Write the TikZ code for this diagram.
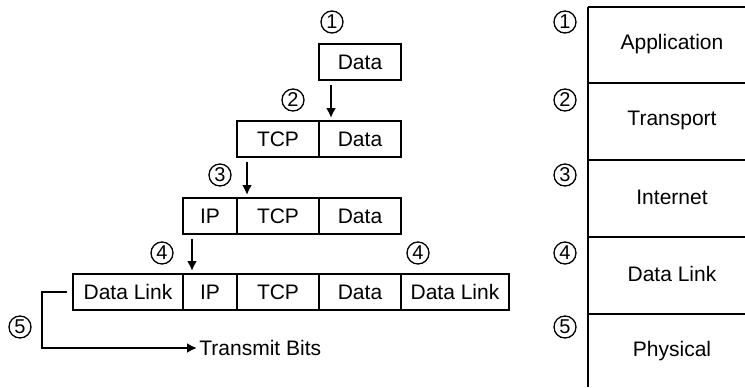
\documentclass[tikz,border=0pt]{standalone}
\usepackage{fontspec}
\setmainfont{Liberation Sans}
\usetikzlibrary{positioning,arrows.meta}

\tikzset{
  cell/.style={draw, line width=1.1pt, outer sep=0pt, inner sep=0pt,
    minimum height=18pt, font=\fontsize{10.5}{12}\selectfont},
  num/.style={circle, draw, line width=0.65pt, minimum size=11pt,
    inner sep=0pt, font=\fontsize{10}{10}\selectfont},
  arr/.style={-{Latex[length=5pt,width=5pt]}, line width=1.1pt},
  layer/.style={font=\fontsize{10.5}{12}\selectfont},
}

\begin{document}
\begin{tikzpicture}[x=0.5pt,y=-0.5pt]
  \useasboundingbox (0,0) rectangle (745,387);

  % step 1: data
  \node[cell, minimum width=41pt, anchor=north west] (d1) at (319,44) {Data};
  \node[num] (n1) at (332,22) {1};

  % step 2: transport
  \node[cell, minimum width=41pt, anchor=north west] (tcp2) at (237,121) {TCP};
  \node[cell, minimum width=41pt, right=0pt of tcp2] (d2) {Data};
  \node[num] (n2) at (293,100) {2};

  % step 3: internet
  \node[cell, minimum width=27pt, anchor=north west] (ip3) at (183,198) {IP};
  \node[cell, minimum width=41pt, right=0pt of ip3] (tcp3) {TCP};
  \node[cell, minimum width=41pt, right=0pt of tcp3] (d3) {Data};
  \node[num] (n3) at (220,175) {3};

  % step 4: data link
  \node[cell, minimum width=55pt, anchor=north west] (dl4) at (73,274) {Data Link};
  \node[cell, minimum width=27pt, right=0pt of dl4] (ip4) {IP};
  \node[cell, minimum width=41pt, right=0pt of ip4] (tcp4) {TCP};
  \node[cell, minimum width=41pt, right=0pt of tcp4] (d4) {Data};
  \node[cell, minimum width=54pt, right=0pt of d4] (tr4) {Data Link};
  \node[num] (n4) at (162,253) {4};
  \node[num] (n4b) at (418,253) {4};

  % step 5: physical
  \node[num] (n5) at (20,327) {5};
  \node[layer, anchor=west, inner sep=0pt] (bits) at (199,348) {Transmit Bits};

  \draw[arr] ([xshift=6pt,yshift=-2.5pt]d1.south west) -- ([xshift=6pt,yshift=1.5pt]d2.north west);
  \draw[arr] ([xshift=5pt,yshift=-2.5pt]tcp2.south west) -- ([xshift=5pt,yshift=1.5pt]tcp3.north west);
  \draw[arr] ([xshift=4.5pt,yshift=-2.5pt]ip3.south west) -- ([xshift=4.5pt,yshift=1.5pt]ip4.north west);
  \draw[arr] ([xshift=-3pt]dl4.west) -- ++(-12.5pt,0) |- ([xshift=-1pt]bits.west);

  % layer stack
  \draw[line width=1.1pt] (588,7) -- (588,387);
  \foreach \y/\name [count=\i] in {7/Application,83/Transport,160/Internet,237/Data Link,314/Physical}{
    \draw[line width=1.1pt] (588,\y) -- (745,\y);
    \node[layer] (layer\i) at (672,{\y+37}) {\name};
  }
  \foreach \y [count=\i] in {22,100,175,253,327}
    \node[num] (r\i) at (565,\y) {\i};
\end{tikzpicture}
\end{document}
